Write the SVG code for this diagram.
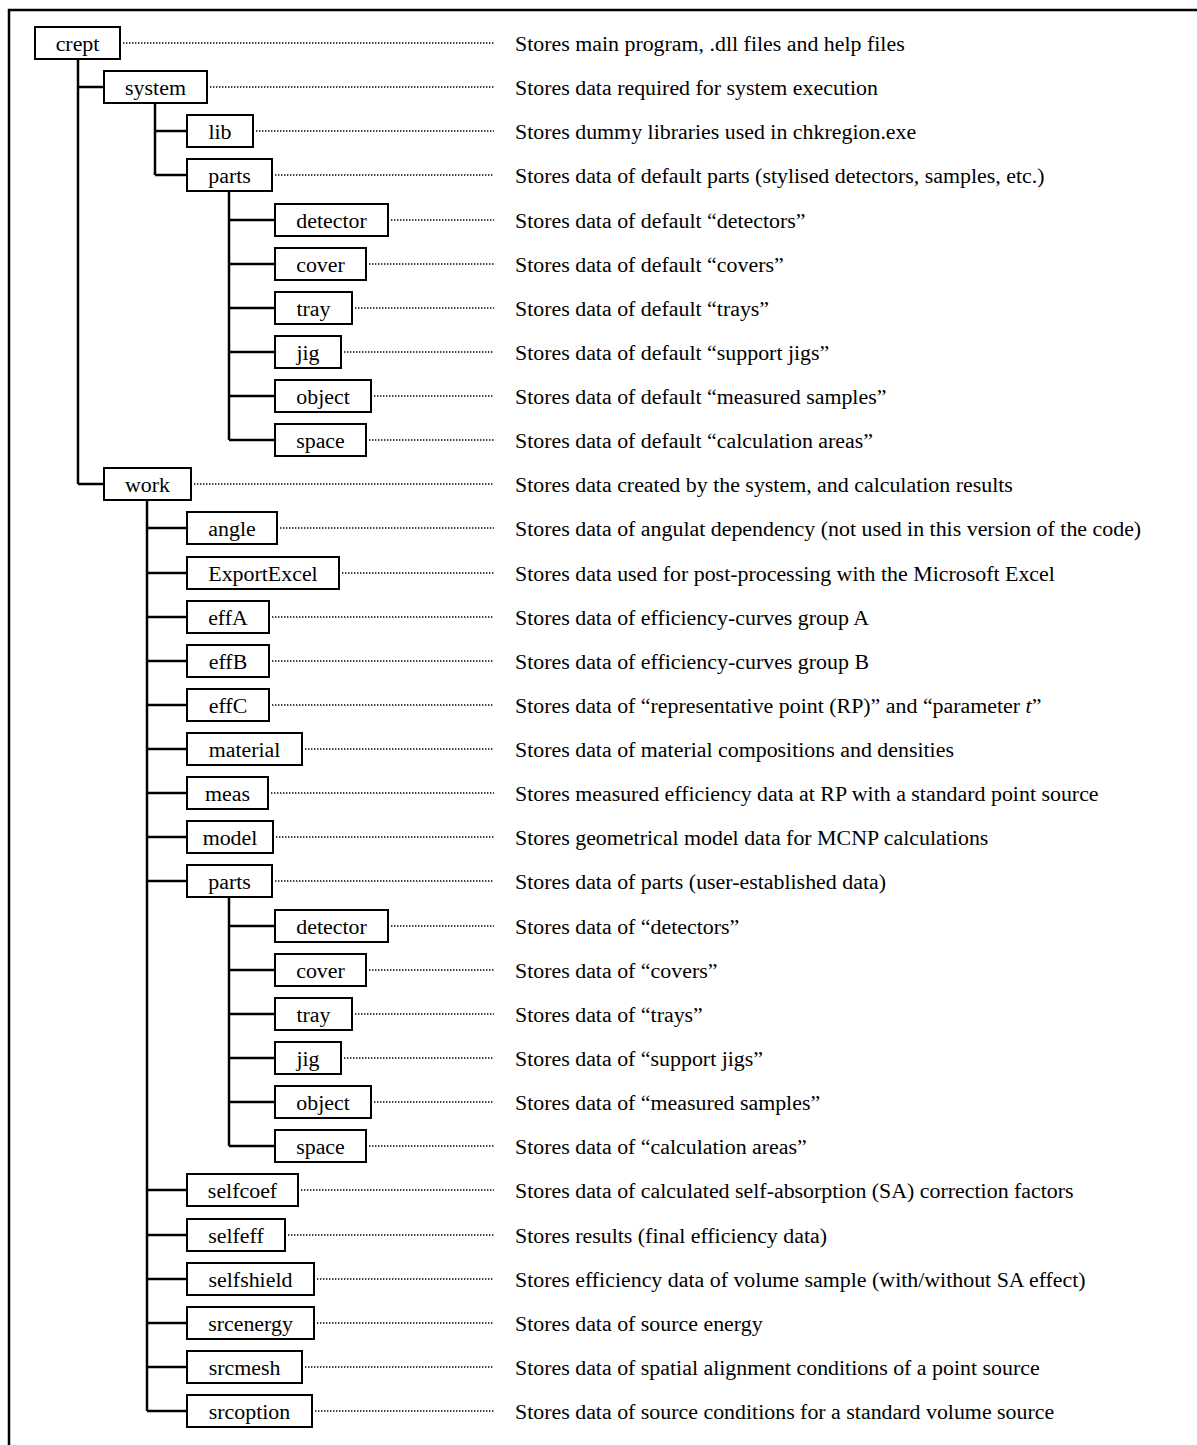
<svg xmlns="http://www.w3.org/2000/svg" width="1197" height="1445" viewBox="0 0 1197 1445">
<style>
.bx{fill:#fff;stroke:#000;stroke-width:2}
.t{font-family:"Liberation Serif","Times New Roman",serif;font-size:21.9px;fill:#000}
.c{text-anchor:middle}
.tr{stroke:#000;stroke-width:2.5;fill:none}
.dt{stroke:#000;stroke-width:1.4;stroke-dasharray:1.4 1.6;fill:none}
</style>
<rect width="1197" height="1445" fill="#fff"/>
<polyline points="9,1445 9,10 1197,10" fill="none" stroke="#000" stroke-width="2.5"/>
<g id="connectors">
<path class="tr" d="M78,58V484M78,87H104M78,484H104"/>
<path class="tr" d="M155,103V175M155,131H187M155,175H187"/>
<path class="tr" d="M229,191V440M229,220H275M229,264H275M229,308H275M229,352H275M229,396H275M229,440H275"/>
<path class="tr" d="M147,500V1411M147,528H187M147,573H187M147,617H187M147,661H187M147,705H187M147,749H187M147,793H187M147,837H187M147,881H187M147,1190H187M147,1235H187M147,1279H187M147,1323H187M147,1367H187M147,1411H187"/>
<path class="tr" d="M229,897V1146M229,926H275M229,970H275M229,1014H275M229,1058H275M229,1102H275M229,1146H275"/>
<path class="dt" d="M123,43H494M210,87H494M256,131H494M275,175H494M391,220H494M369,264H494M355,308H494M344,352H494M374,396H494M369,440H494M194,484H494M280,528H494M342,573H494M272,617H494M272,661H494M272,705H494M305,749H494M271,793H494M276,837H494M275,881H494M391,926H494M369,970H494M355,1014H494M344,1058H494M374,1102H494M369,1146H494M301,1190H494M288,1235H494M317,1279H494M317,1323H494M305,1367H494M315,1411H494"/>
</g>
<g id="n-crept"><rect class="bx" x="35" y="27" width="85" height="32"/><text class="t c" x="77.5" y="51">crept</text></g>
<g id="n-system"><rect class="bx" x="104" y="71" width="103" height="32"/><text class="t c" x="155.5" y="95">system</text></g>
<g id="n-lib"><rect class="bx" x="187" y="115" width="66" height="32"/><text class="t c" x="220" y="139">lib</text></g>
<g id="n-parts1"><rect class="bx" x="187" y="159" width="85" height="32"/><text class="t c" x="229.5" y="183">parts</text></g>
<g id="n-detector1"><rect class="bx" x="275" y="204" width="113" height="32"/><text class="t c" x="331.5" y="228">detector</text></g>
<g id="n-cover1"><rect class="bx" x="275" y="248" width="91" height="32"/><text class="t c" x="320.5" y="272">cover</text></g>
<g id="n-tray1"><rect class="bx" x="275" y="292" width="77" height="32"/><text class="t c" x="313.5" y="316">tray</text></g>
<g id="n-jig1"><rect class="bx" x="275" y="336" width="66" height="32"/><text class="t c" x="308" y="360">jig</text></g>
<g id="n-object1"><rect class="bx" x="275" y="380" width="96" height="32"/><text class="t c" x="323" y="404">object</text></g>
<g id="n-space1"><rect class="bx" x="275" y="424" width="91" height="32"/><text class="t c" x="320.5" y="448">space</text></g>
<g id="n-work"><rect class="bx" x="104" y="468" width="87" height="32"/><text class="t c" x="147.5" y="492">work</text></g>
<g id="n-angle"><rect class="bx" x="187" y="512" width="90" height="32"/><text class="t c" x="232" y="536">angle</text></g>
<g id="n-ExportExcel"><rect class="bx" x="187" y="557" width="152" height="32"/><text class="t c" x="263" y="581">ExportExcel</text></g>
<g id="n-effA"><rect class="bx" x="187" y="601" width="82" height="32"/><text class="t c" x="228" y="625">effA</text></g>
<g id="n-effB"><rect class="bx" x="187" y="645" width="82" height="32"/><text class="t c" x="228" y="669">effB</text></g>
<g id="n-effC"><rect class="bx" x="187" y="689" width="82" height="32"/><text class="t c" x="228" y="713">effC</text></g>
<g id="n-material"><rect class="bx" x="187" y="733" width="115" height="32"/><text class="t c" x="244.5" y="757">material</text></g>
<g id="n-meas"><rect class="bx" x="187" y="777" width="81" height="32"/><text class="t c" x="227.5" y="801">meas</text></g>
<g id="n-model"><rect class="bx" x="187" y="821" width="86" height="32"/><text class="t c" x="230" y="845">model</text></g>
<g id="n-parts2"><rect class="bx" x="187" y="865" width="85" height="32"/><text class="t c" x="229.5" y="889">parts</text></g>
<g id="n-detector2"><rect class="bx" x="275" y="910" width="113" height="32"/><text class="t c" x="331.5" y="934">detector</text></g>
<g id="n-cover2"><rect class="bx" x="275" y="954" width="91" height="32"/><text class="t c" x="320.5" y="978">cover</text></g>
<g id="n-tray2"><rect class="bx" x="275" y="998" width="77" height="32"/><text class="t c" x="313.5" y="1022">tray</text></g>
<g id="n-jig2"><rect class="bx" x="275" y="1042" width="66" height="32"/><text class="t c" x="308" y="1066">jig</text></g>
<g id="n-object2"><rect class="bx" x="275" y="1086" width="96" height="32"/><text class="t c" x="323" y="1110">object</text></g>
<g id="n-space2"><rect class="bx" x="275" y="1130" width="91" height="32"/><text class="t c" x="320.5" y="1154">space</text></g>
<g id="n-selfcoef"><rect class="bx" x="187" y="1174" width="111" height="32"/><text class="t c" x="242.5" y="1198">selfcoef</text></g>
<g id="n-selfeff"><rect class="bx" x="187" y="1219" width="98" height="32"/><text class="t c" x="236" y="1243">selfeff</text></g>
<g id="n-selfshield"><rect class="bx" x="187" y="1263" width="127" height="32"/><text class="t c" x="250.5" y="1287">selfshield</text></g>
<g id="n-srcenergy"><rect class="bx" x="187" y="1307" width="127" height="32"/><text class="t c" x="250.5" y="1331">srcenergy</text></g>
<g id="n-srcmesh"><rect class="bx" x="187" y="1351" width="115" height="32"/><text class="t c" x="244.5" y="1375">srcmesh</text></g>
<g id="n-srcoption"><rect class="bx" x="187" y="1395" width="125" height="32"/><text class="t c" x="249.5" y="1419">srcoption</text></g>
<g id="descriptions">
<text class="t" x="515" y="51">Stores main program, .dll files and help files</text>
<text class="t" x="515" y="95">Stores data required for system execution</text>
<text class="t" x="515" y="139">Stores dummy libraries used in chkregion.exe</text>
<text class="t" x="515" y="183">Stores data of default parts (stylised detectors, samples, etc.)</text>
<text class="t" x="515" y="228">Stores data of default “detectors”</text>
<text class="t" x="515" y="272">Stores data of default “covers”</text>
<text class="t" x="515" y="316">Stores data of default “trays”</text>
<text class="t" x="515" y="360">Stores data of default “support jigs”</text>
<text class="t" x="515" y="404">Stores data of default “measured samples”</text>
<text class="t" x="515" y="448">Stores data of default “calculation areas”</text>
<text class="t" x="515" y="492">Stores data created by the system, and calculation results</text>
<text class="t" x="515" y="536">Stores data of angulat dependency (not used in this version of the code)</text>
<text class="t" x="515" y="581">Stores data used for post-processing with the Microsoft Excel</text>
<text class="t" x="515" y="625">Stores data of efficiency-curves group A</text>
<text class="t" x="515" y="669">Stores data of efficiency-curves group B</text>
<text class="t" x="515" y="713">Stores data of “representative point (RP)” and “parameter <tspan font-style="italic">t</tspan>”</text>
<text class="t" x="515" y="757">Stores data of material compositions and densities</text>
<text class="t" x="515" y="801">Stores measured efficiency data at RP with a standard point source</text>
<text class="t" x="515" y="845">Stores geometrical model data for MCNP calculations</text>
<text class="t" x="515" y="889">Stores data of parts (user-established data)</text>
<text class="t" x="515" y="934">Stores data of “detectors”</text>
<text class="t" x="515" y="978">Stores data of “covers”</text>
<text class="t" x="515" y="1022">Stores data of “trays”</text>
<text class="t" x="515" y="1066">Stores data of “support jigs”</text>
<text class="t" x="515" y="1110">Stores data of “measured samples”</text>
<text class="t" x="515" y="1154">Stores data of “calculation areas”</text>
<text class="t" x="515" y="1198">Stores data of calculated self-absorption (SA) correction factors</text>
<text class="t" x="515" y="1243">Stores results (final efficiency data)</text>
<text class="t" x="515" y="1287">Stores efficiency data of volume sample (with/without SA effect)</text>
<text class="t" x="515" y="1331">Stores data of source energy</text>
<text class="t" x="515" y="1375">Stores data of spatial alignment conditions of a point source</text>
<text class="t" x="515" y="1419">Stores data of source conditions for a standard volume source</text>
</g>
</svg>
